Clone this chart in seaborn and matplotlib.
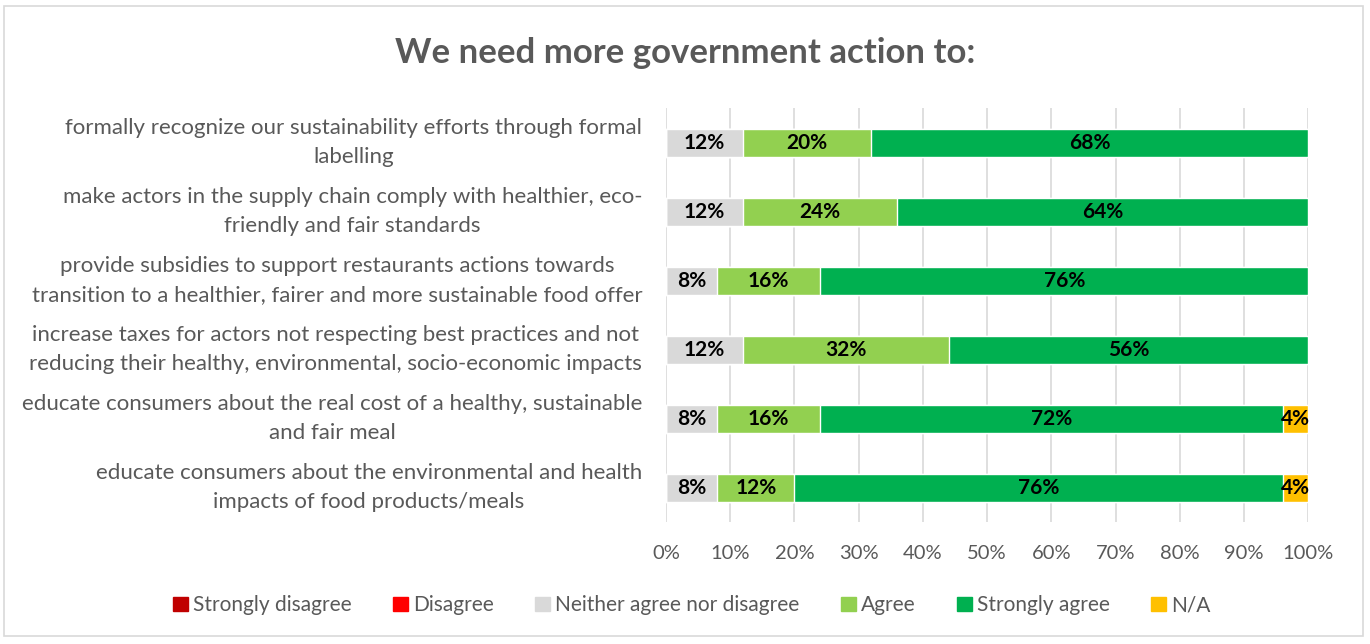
import numpy as np
import pandas as pd
import seaborn as sns
import matplotlib.pyplot as plt
from matplotlib.patches import Rectangle
from matplotlib.transforms import ScaledTranslation

statements = [
    "formally recognize our sustainability efforts through formal\nlabelling",
    "make actors in the supply chain comply with healthier, eco-\nfriendly and fair standards",
    "provide subsidies to support restaurants actions towards\ntransition to a healthier, fairer and more sustainable food offer",
    "increase taxes for actors not respecting best practices and not\nreducing their healthy, environmental, socio-economic impacts",
    "educate consumers about the real cost of a healthy, sustainable\nand fair meal",
    "educate consumers about the environmental and health\nimpacts of food products/meals",
]
categories = ["Strongly disagree", "Disagree", "Neither agree nor disagree",
              "Agree", "Strongly agree", "N/A"]
strongly_disagree = [0, 0, 0, 0, 0, 0]
disagree = [0, 0, 0, 0, 0, 0]
neither = [12, 12, 8, 12, 8, 8]
agree = [20, 24, 16, 32, 16, 12]
strongly_agree = [68, 64, 76, 56, 72, 76]
na = [0, 0, 0, 0, 4, 4]
title = "We need more government action to:"

colors = ["#C00000", "#FF0000", "#D9D9D9", "#92D050", "#00B050", "#FFC000"]
series = [strongly_disagree, disagree, neither, agree, strongly_agree, na]

sns.set_theme(style="white")
plt.rcParams['font.family'] = ['Lato', 'DejaVu Sans']

fig = plt.figure(figsize=(13.7, 6.44), dpi=100)
ax = fig.add_axes([0.486, 0.189, 0.469, 0.643])

df = pd.DataFrame({c: s for c, s in zip(categories, series)})
df["statement"] = statements
cum = df[categories].cumsum(axis=1)

for i in range(len(categories) - 1, -1, -1):
    cat = categories[i]
    sns.barplot(x=cum[cat], y=df["statement"], orient="h", color=colors[i],
                width=0.4, ax=ax, saturation=1, zorder=3)

left = cum.shift(1, axis=1).fillna(0)
for r in range(len(statements)):
    for i, cat in enumerate(categories):
        v = df[cat].iloc[r]
        if v > 0:
            ax.text(left[cat].iloc[r] + v / 2, r, f"{v}%", ha="center", va="center",
                    fontsize=15, fontweight="bold", color="black", zorder=5)

ax.set_xlim(0, 100)
ax.set_ylim(5.5, -0.5)
ax.set_xticks(np.arange(0, 101, 10))
ax.set_xticklabels([f"{t}%" for t in range(0, 101, 10)], fontsize=14.5, color="#595959")
ax.tick_params(axis="x", pad=16, length=0)
ax.tick_params(axis="y", length=0, pad=17)
ax.set_yticks(range(len(statements)))
ax.set_yticklabels(statements, fontsize=16, color="#595959", ha="right",
                   multialignment="center", linespacing=1.6)
shift = ScaledTranslation(0, 0.07, fig.dpi_scale_trans)
for lab in ax.get_yticklabels():
    lab.set_transform(lab.get_transform() + shift)
ax.set_xlabel("")
ax.set_ylabel("")
ax.grid(axis="x", color="#D9D9D9", linewidth=1.2, zorder=0)
ax.set_axisbelow(True)
for s in ax.spines.values():
    s.set_visible(False)

fig.text(0.5, 0.918, title, ha="center", va="center", fontsize=25,
         fontweight="bold", color="#595959")

handles = [Rectangle((0, 0), 1, 1, color=c) for c in colors]
fig.legend(handles, categories, loc="center", bbox_to_anchor=(0.505, 0.06), ncol=6,
           frameon=False, fontsize=15, labelcolor="#595959", handlelength=0.7,
           handleheight=0.7, handletextpad=0.25, columnspacing=2.0)

fig.patches.append(Rectangle((0.003, 0.012), 0.992, 0.978, transform=fig.transFigure,
                             fill=False, edgecolor="#D9D9D9", linewidth=1.2))

fig.savefig("out.png", dpi=100)
